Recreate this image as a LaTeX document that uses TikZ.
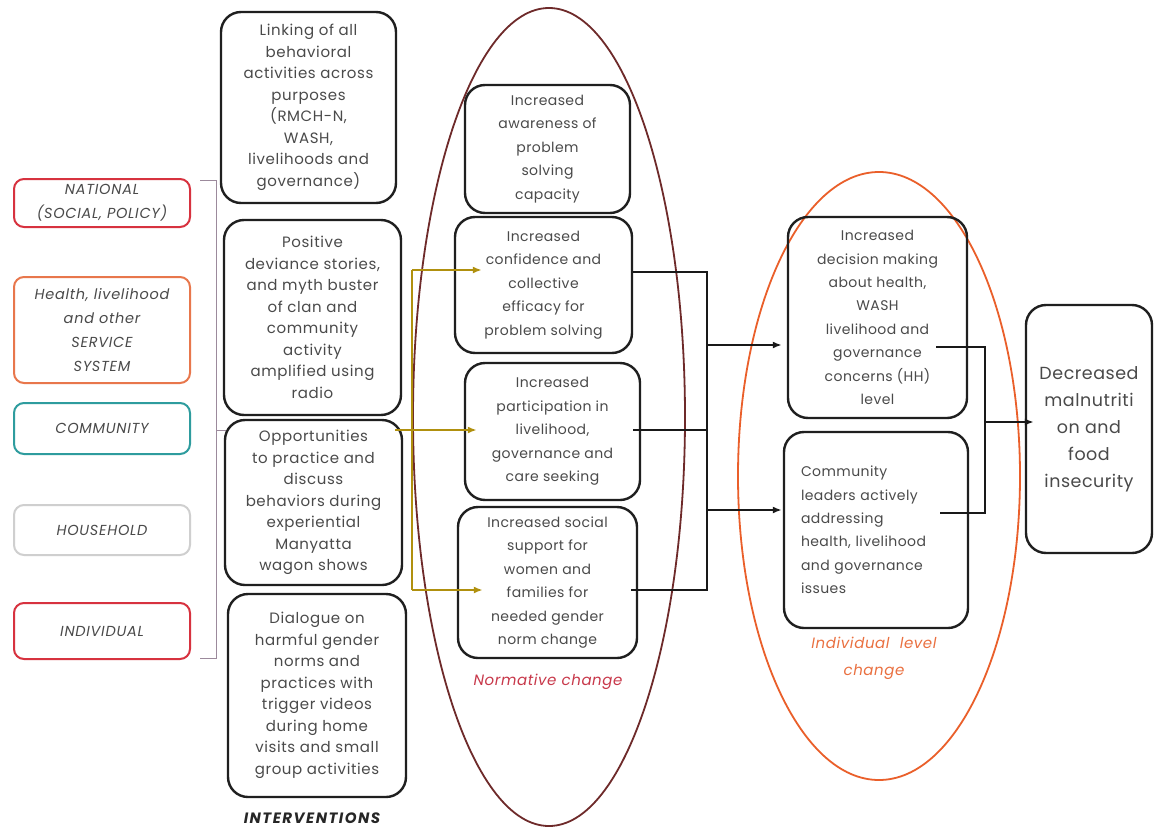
\documentclass[tikz,border=0pt]{standalone}
\usepackage{fontspec}
\setmainfont{Poppins}
\usetikzlibrary{arrows.meta,calc}
\definecolor{txt}{HTML}{4A4A4A}
\definecolor{natred}{HTML}{D7323F}
\definecolor{svcorange}{HTML}{E8774C}
\definecolor{commteal}{HTML}{2E9C9E}
\definecolor{hhgray}{HTML}{CFCFCF}
\definecolor{normc}{HTML}{6E2A2A}
\definecolor{indc}{HTML}{EA5F2A}
\definecolor{goldc}{HTML}{B0900E}
\definecolor{bracketc}{HTML}{9C8A9C}
\definecolor{normlab}{HTML}{C8384A}
\definecolor{indlab}{HTML}{EA7040}
\begin{document}
\begin{tikzpicture}[x=1pt,y=-1pt,
  lvl/.style={draw, line width=2pt, rounded corners=10pt, minimum width=176pt,
    inner sep=0pt, align=center, text=txt,
    font=\fontsize{14.5}{24}\selectfont\itshape\addfontfeature{LetterSpace=5}},
  rbox/.style={draw=black!88, line width=2.4pt, rounded corners=20pt,
    inner sep=0pt, align=center, text=txt},
  ibox/.style={rbox, font=\fontsize{15}{21.5}\selectfont\addfontfeature{LetterSpace=4}},
  nbox/.style={rbox, font=\fontsize{14}{23.5}\selectfont\addfontfeature{LetterSpace=3}},
  dbox/.style={rbox, font=\fontsize{14}{23.4}\selectfont\addfontfeature{LetterSpace=3}},
  bline/.style={draw=black!90, line width=2pt},
  barrow/.style={bline, -{Latex[length=9pt,width=7pt]}},
  gline/.style={draw=goldc, line width=2pt},
  garrow/.style={gline, -{Latex[length=9pt,width=7pt]}},
  brk/.style={draw=bracketc, line width=1pt}
]
\useasboundingbox (0,0) rectangle (1154,830);
\fill[white] (0,0) rectangle (1154,830);

% grouping ellipses
\draw[normc, line width=1.8pt] (549,417) ellipse [x radius=136pt, y radius=409pt];
\draw[indc, line width=1.8pt] (879,476) ellipse [x radius=141pt, y radius=304pt];

% levels of the socio-ecological model
\node[lvl, draw=natred, minimum height=48pt] (nat) at (102,203) {NATIONAL\\(SOCIAL, POLICY)};
\node[lvl, draw=svcorange, minimum height=106pt] (svc) at (102,330) {Health, livelihood\\and other\\SERVICE\\SYSTEM};
\node[lvl, draw=commteal, minimum height=51pt] (comm) at (102,428.5) {COMMUNITY};
\node[lvl, draw=hhgray, minimum height=50pt] (hh) at (102,530) {HOUSEHOLD};
\node[lvl, draw=natred, minimum height=56pt] (ind) at (102,631) {INDIVIDUAL};

% brackets
\draw[brk] (200,180) -- (216,180) -- (216,430) -- (226,430);
\draw[brk] (216,430) -- (216,658) -- (200,658);

% interventions
\node[ibox, minimum width=175pt, minimum height=191pt] (i1) at (308.5,107.5)
  {Linking of all\\behavioral\\activities across\\purposes\\(RMCH-N,\\WASH,\\livelihoods and\\governance)};
\node[ibox, minimum width=177pt, minimum height=195pt] (i2) at (312.5,317.5)
  {Positive\\deviance stories,\\and myth buster\\of clan and\\community\\activity\\amplified using\\radio};
\node[ibox, minimum width=177pt, minimum height=165pt] (i3) at (313.5,502.5)
  {Opportunities\\to practice and\\discuss\\behaviors during\\experiential\\Manyatta\\wagon shows};
\node[ibox, minimum width=178pt, minimum height=203pt] (i4) at (317,695.5)
  {Dialogue on\\harmful gender\\norms and\\practices with\\trigger videos\\during home\\visits and small\\group activities};
\node[font=\fontsize{15}{16}\selectfont\bfseries\itshape\addfontfeature{LetterSpace=10}, text=black!85] (intlab) at (312,818) {INTERVENTIONS};

% normative change
\node[nbox, minimum width=165pt, minimum height=128pt] (n1) at (547.5,149)
  {Increased\\awareness of\\problem\\solving\\capacity};
\node[nbox, minimum width=177pt, minimum height=136pt] (n2) at (543.5,285)
  {Increased\\confidence and\\collective\\efficacy for\\problem solving};
\node[nbox, minimum width=175pt, minimum height=137pt] (n3) at (552.5,431.5)
  {Increased\\participation in\\livelihood,\\governance and\\care seeking};
\node[nbox, minimum width=179pt, minimum height=151pt] (n4) at (547.5,582.5)
  {Increased social\\support for\\women and\\families for\\needed gender\\norm change};
\node[font=\fontsize{15}{16}\selectfont\itshape\addfontfeature{LetterSpace=4}, text=normlab] (normlabel) at (548,682) {Normative change};

% individual level change
\node[dbox, minimum width=179pt, minimum height=201pt] (d1) at (877.5,317.5)
  {Increased\\decision making\\about health,\\WASH\\livelihood and\\governance\\concerns (HH)\\level};
\node[dbox, minimum width=184pt, minimum height=196pt, text width=150pt, align=left] (d2) at (876,530)
  {Community\\leaders actively\\addressing\\health, livelihood\\and governance\\issues};
\node[font=\fontsize{15}{27}\selectfont\itshape\addfontfeature{LetterSpace=4}, text=indlab, align=center] (indlabel) at (874,658.5) {Individual\ \ level\\change};

% outcome
\node[rbox, minimum width=126pt, minimum height=248pt, font=\fontsize{17.5}{27}\selectfont\addfontfeature{LetterSpace=3}] (fin) at (1089,429)
  {Decreased\\malnutriti\\on and\\food\\insecurity};

% interventions to normative change
\coordinate (gtop) at (412,270);
\coordinate (gbot) at (412,590);
\draw[gline] (gtop) -- (gbot);
\draw[garrow] ($(i3.east)+(-8,-72.5)$) -- ($(n3.west)+(13,-1.5)$);
\draw[garrow] (gtop) -- ($(gtop -| n2.west)+(28,0)$);
\draw[garrow] (gbot) -- ($(gbot -| n4.west)+(26,0)$);

% normative change to individual change
\coordinate (ja) at (707,272);
\coordinate (jb) at (707,590);
\draw[bline] ($(n2.east)+(0,-13)$) -- (ja) -- (jb) -- ($(n4.east)+(-7,7.5)$);
\draw[bline] ($(n3.east)+(-8,-1.5)$) -- ($(n3.east -| ja)+(0,-1.5)$);
\draw[barrow] ($(ja)+(0,73)$) -- ($(d1.west)+(-5,27.5)$);
\draw[barrow] ($(ja)+(0,238)$) -- ($(d2.west)+(-1,-20)$);

% individual change to outcome
\coordinate (ka) at (985,347);
\coordinate (kb) at (985,513);
\draw[bline] ($(d1.east)+(-32,29.5)$) -- (ka) -- (kb) -- ($(d2.east)+(-29,-17)$);
\draw[barrow] ($(ka)+(0,75)$) -- ($(fin.west)+(9,-7)$);
\end{tikzpicture}
\end{document}
